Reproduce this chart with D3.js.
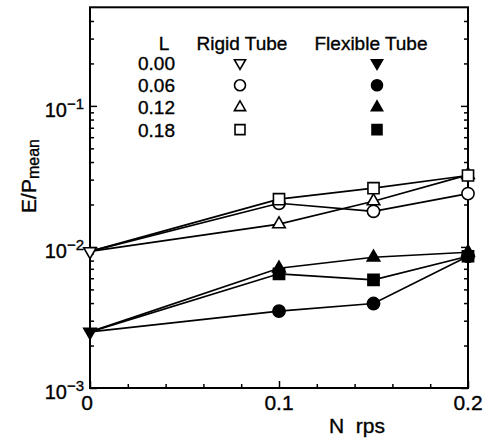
<!DOCTYPE html>
<html>
<head>
<meta charset="utf-8">
<script src="https://cdn.jsdelivr.net/npm/d3@7"></script>
<style>
  body { margin: 0; background: #fff; }
  svg text { font-family: "Liberation Sans", Arial, Helvetica, sans-serif; fill: #000; stroke: #000; stroke-width: 0.35px; }
</style>
</head>
<body>
<div id="chart"></div>
<script>
// N (rps) at which E/P_mean was measured
var nRps = [0, 0.1, 0.15, 0.2];

// E/P_mean, rigid tube, one array per L (first value is the common N = 0 point)
var rigidL000 = [0.0093];
var rigidL006 = [0.0093, 0.0204, 0.0179, 0.0239];
var rigidL012 = [0.0093, 0.0145, 0.0211, 0.0324];
var rigidL018 = [0.0093, 0.0218, 0.0261, 0.0321];

// E/P_mean, flexible tube
var flexL000 = [0.0025];
var flexL006 = [0.0025, 0.00351, 0.00397, 0.00859];
var flexL012 = [0.0025, 0.00706, 0.00845, 0.00917];
var flexL018 = [0.0025, 0.00645, 0.00585, 0.00859];

var lLabels = ["0.00", "0.06", "0.12", "0.18"];
var yTickLabels = [{v: 1e-3, e: "3"}, {v: 1e-2, e: "2"}, {v: 1e-1, e: "1"}];
var xTickLabels = [0, 0.1, 0.2];

(function () {
    var width = 494,
        height = 444;
    var margin = {left: 90, right: 26, top: 7.3, bottom: 56};

    var svg = d3.select("#chart").append("svg")
        .attr("width", width)
        .attr("height", height);

    var x = d3.scaleLinear().domain([0, 0.2]).range([margin.left, width - margin.right]);
    var y = d3.scaleLog().domain([1e-3, 0.5]).range([height - margin.bottom, margin.top]);

    var shapes = [d3.symbolTriangle, d3.symbolCircle, d3.symbolTriangle, d3.symbolSquare];
    var sizes = [68, 118, 68, 124];
    var rotations = [180, 0, 0, 0];

    var series = [
        {vals: rigidL000, k: 0, filled: false, from: 0},
        {vals: rigidL006, k: 1, filled: false, from: 1},
        {vals: rigidL012, k: 2, filled: false, from: 1},
        {vals: rigidL018, k: 3, filled: false, from: 1},
        {vals: flexL000, k: 0, filled: true, from: 0},
        {vals: flexL006, k: 1, filled: true, from: 1},
        {vals: flexL012, k: 2, filled: true, from: 1},
        {vals: flexL018, k: 3, filled: true, from: 1}
    ];

    // ticks (inward)
    var yMajor = [1e-3, 1e-2, 1e-1];
    var yMinor = [];
    [1e-3, 1e-2, 1e-1].forEach(function (d) {
        for (var i = 2; i <= 9; i++) {
            if (d * i < 0.5) yMinor.push(d * i);
        }
    });
    var xMajor = [0, 0.1, 0.2];
    var xMinor = d3.range(0.02, 0.2, 0.02).filter(function (d) { return Math.abs(d - 0.1) > 1e-6; });

    function tickGroup(axis) {
        var g = svg.append("g");
        g.call(axis);
        g.select(".domain").remove();
        g.selectAll("line").attr("stroke", "#000").attr("stroke-width", 1.5);
        g.selectAll("text").remove();
        return g;
    }
    var left = margin.left, right = width - margin.right, bottom = height - margin.bottom;

    tickGroup(d3.axisLeft(y).tickValues(yMajor).tickSize(-7).tickFormat(""))
        .attr("transform", "translate(" + left + ",0)");
    tickGroup(d3.axisLeft(y).tickValues(yMinor).tickSize(-4).tickFormat(""))
        .attr("transform", "translate(" + left + ",0)");
    tickGroup(d3.axisRight(y).tickValues(yMajor).tickSize(-7).tickFormat(""))
        .attr("transform", "translate(" + right + ",0)");
    tickGroup(d3.axisRight(y).tickValues(yMinor).tickSize(-4).tickFormat(""))
        .attr("transform", "translate(" + right + ",0)");
    tickGroup(d3.axisBottom(x).tickValues(xMajor).tickSize(-7).tickFormat(""))
        .attr("transform", "translate(0," + bottom + ")");
    tickGroup(d3.axisBottom(x).tickValues(xMinor).tickSize(-4).tickFormat(""))
        .attr("transform", "translate(0," + bottom + ")");

    // frame
    svg.append("rect")
        .attr("x", left).attr("y", margin.top)
        .attr("width", right - left).attr("height", bottom - margin.top)
        .attr("fill", "none").attr("stroke", "#000").attr("stroke-width", 2);

    // y tick labels
    yTickLabels.forEach(function (t) {
        var txt = svg.append("text")
            .attr("x", left - 6)
            .attr("y", y(t.v) + 11)
            .attr("text-anchor", "end")
            .style("font-size", "20px");
        txt.append("tspan").text("10");
        txt.append("tspan").attr("dy", -8).style("font-size", "15px").text("\u2212" + t.e);
    });

    // x tick labels
    svg.selectAll(".xlab").data(xTickLabels).enter().append("text")
        .attr("class", "xlab")
        .attr("x", function (d) { return x(d) - (d === 0 ? 3 : 0); })
        .attr("y", bottom + 22)
        .attr("text-anchor", "middle")
        .style("font-size", "21px")
        .text(function (d) { return d === 0 ? "0" : d3.format(".1f")(d); });

    // axis titles
    svg.append("text")
        .attr("x", 357).attr("y", 433)
        .attr("text-anchor", "middle")
        .style("font-size", "21px")
        .text("N\u00a0\u00a0rps");

    var yt = svg.append("text")
        .attr("transform", "translate(36,176) rotate(-90)")
        .attr("text-anchor", "middle")
        .style("font-size", "21px");
    yt.append("tspan").text("E/P");
    yt.append("tspan").attr("dy", 3).style("font-size", "16px").text("mean");

    // lines
    var line = d3.line()
        .x(function (d, i) { return x(nRps[i]); })
        .y(function (d) { return y(d); });

    svg.selectAll(".series").data(series.filter(function (s) { return s.vals.length > 1; }))
        .enter().append("path")
        .attr("class", "series")
        .attr("d", function (s) { return line(s.vals); })
        .attr("fill", "none")
        .attr("stroke", "#000")
        .attr("stroke-width", 1.7);

    // markers
    series.forEach(function (s) {
        var pts = s.vals.map(function (v, i) { return {n: nRps[i], v: v}; }).slice(s.from);
        svg.selectAll(null).data(pts).enter().append("path")
            .attr("d", d3.symbol().type(shapes[s.k]).size(sizes[s.k]))
            .attr("transform", function (d) {
                return "translate(" + x(d.n) + "," + y(d.v) + ") rotate(" + rotations[s.k] + ")";
            })
            .attr("fill", s.filled ? "#000" : "#fff")
            .attr("stroke", "#000")
            .attr("stroke-width", 1.6);
    });

    // legend
    var legY = d3.scaleLinear().domain([0, 1]).range([70, 92.2]);
    svg.append("text").attr("x", 164).attr("y", 50).attr("text-anchor", "middle")
        .style("font-size", "19px").text("L");
    svg.append("text").attr("x", 242).attr("y", 50).attr("text-anchor", "middle")
        .style("font-size", "19px").text("Rigid Tube");
    svg.append("text").attr("x", 371).attr("y", 50).attr("text-anchor", "middle")
        .style("font-size", "19px").text("Flexible Tube");

    lLabels.forEach(function (lab, k) {
        svg.append("text").attr("x", 175).attr("y", legY(k)).attr("text-anchor", "end")
            .style("font-size", "19px").text(lab);
        [false, true].forEach(function (filled) {
            svg.append("path")
                .attr("d", d3.symbol().type(shapes[k]).size(sizes[k] * 0.8))
                .attr("transform", "translate(" + (filled ? 377 : 240) + "," + (legY(k) - 7) + ") rotate(" + rotations[k] + ")")
                .attr("fill", filled ? "#000" : "#fff")
                .attr("stroke", "#000")
                .attr("stroke-width", 1.6);
        });
    });
})();
</script>
</body>
</html>
